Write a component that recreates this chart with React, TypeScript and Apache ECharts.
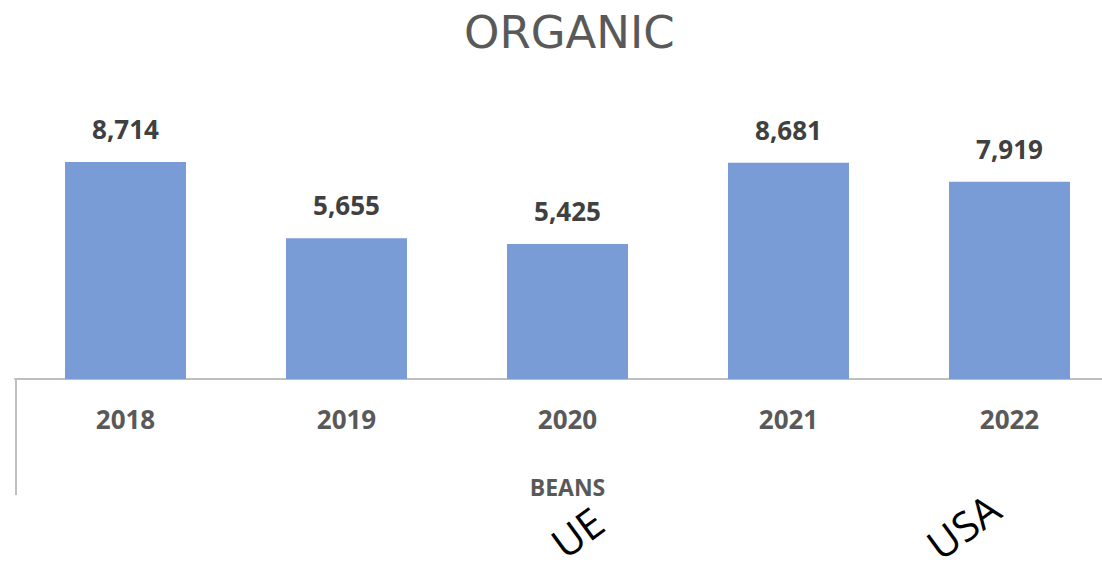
import React, { useEffect, useRef } from "react";
import * as echarts from "echarts";

const categories = ["2018", "2019", "2020", "2021", "2022"];
const values = [8714, 5655, 5425, 8681, 7919];
const title = "ORGANIC";
const axisName = "BEANS";
const regionLabels = ["UE", "USA"];

export default function App() {
  const ref = useRef<HTMLDivElement>(null);
  useEffect(() => {
    if (!ref.current) return;
    const chart = echarts.init(ref.current, undefined, { renderer: "svg" });
    chart.setOption({
      animation: false,
      backgroundColor: "#ffffff",
      title: {
        text: title,
        left: 459,
        top: 5,
        textStyle: {
          fontFamily: "DejaVu Sans",
          fontSize: 45,
          fontWeight: "normal",
          color: "#595959",
        },
      },
      grid: {
        left: 15,
        width: 1105,
        top: 130,
        height: 249,
        containLabel: false,
        outerBoundsMode: "none",
      },
      xAxis: {
        type: "category",
        data: categories,
        name: axisName,
        nameLocation: "middle",
        nameGap: 96,
        nameTextStyle: {
          fontFamily: "Open Sans",
          fontSize: 23,
          fontWeight: "bold",
          color: "#595959",
        },
        axisLine: { lineStyle: { color: "#bfbfbf", width: 2 } },
        axisTick: { show: false },
        axisLabel: {
          margin: 27,
          fontFamily: "Open Sans",
          fontSize: 26,
          fontWeight: "bold",
          color: "#595959",
        },
      },
      yAxis: {
        type: "value",
        min: 0,
        max: 10000,
        show: false,
        splitLine: { show: false },
      },
      series: [
        {
          type: "bar",
          data: values,
          barWidth: 121,
          itemStyle: { color: "#7a9cd6" },
          label: {
            show: true,
            position: "top",
            distance: 20,
            fontFamily: "Open Sans",
            fontSize: 26,
            fontWeight: "bold",
            color: "#404040",
            formatter: (p: any) => p.value.toLocaleString("en-US"),
          },
        },
      ],
      graphic: [
        {
          type: "line",
          shape: { x1: 16, y1: 379, x2: 16, y2: 495 },
          style: { stroke: "#bfbfbf", lineWidth: 2 },
        },
        {
          type: "text",
          x: 577,
          y: 532,
          rotation: 0.63,
          style: {
            text: regionLabels[0],
            font: "41px 'Open Sans'",
            fill: "#000000",
            align: "center",
            verticalAlign: "middle",
          },
        },
        {
          type: "text",
          x: 963,
          y: 526,
          rotation: 0.63,
          style: {
            text: regionLabels[1],
            font: "41px 'Open Sans'",
            fill: "#000000",
            align: "center",
            verticalAlign: "middle",
          },
        },
      ],
    });
    return () => chart.dispose();
  }, []);
  return (
    <div
      ref={ref}
      style={{ position: "absolute", left: 0, top: 0, width: 1102, height: 571 }}
    />
  );
}
